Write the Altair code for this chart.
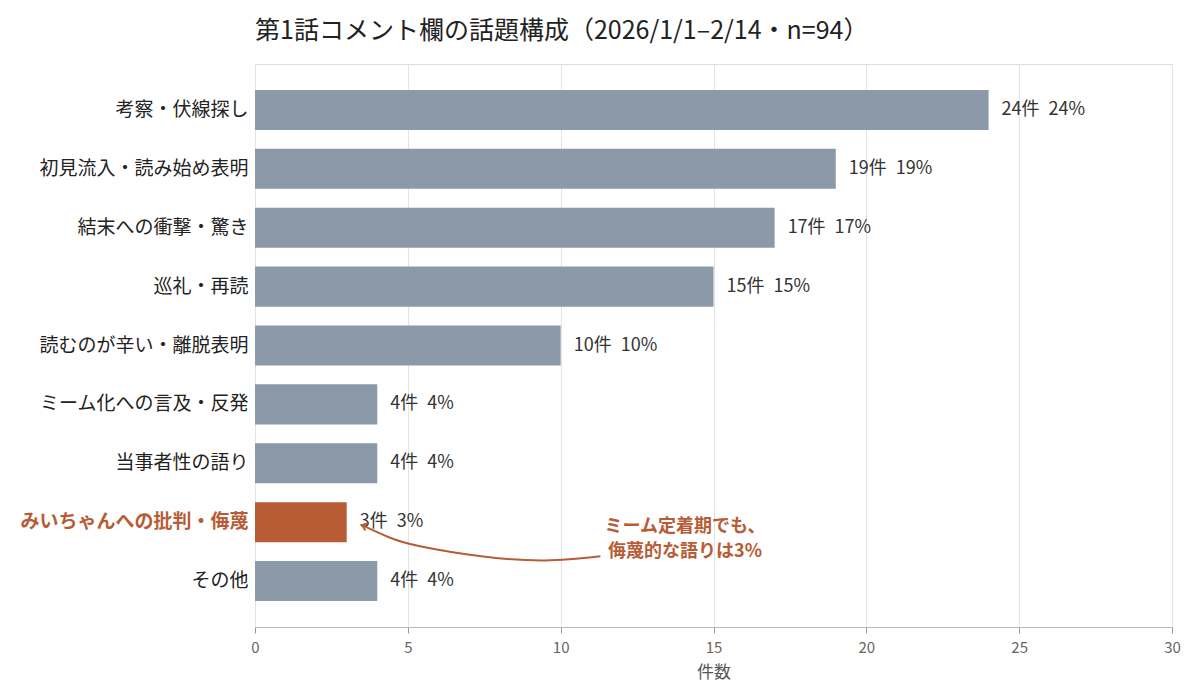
import altair as alt
import pandas as pd

topics = ["考察・伏線探し", "初見流入・読み始め表明", "結末への衝撃・驚き", "巡礼・再読",
          "読むのが辛い・離脱表明", "ミーム化への言及・反発", "当事者性の語り",
          "みいちゃんへの批判・侮蔑", "その他"]
counts = [24, 19, 17, 15, 10, 4, 4, 3, 4]
percents = [24, 19, 17, 15, 10, 4, 4, 3, 4]
highlight_topic = "みいちゃんへの批判・侮蔑"

# annotation (data units: x = 件数, y = row index)
arrow_x = [11.3, 9.5, 7.4, 5.4, 4.4, 3.5]
arrow_y = [7.58, 7.65, 7.58, 7.41, 7.26, 7.05]
note_lines = ["ミーム定着期でも、", "侮蔑的な語りは3%"]
note_x = [14.07, 14.07]
note_y = [7.08, 7.50]

FONT = "Noto Sans CJK JP"
GRAY = "#8C99A8"
ORANGE = "#B85C35"
W, H = 917, 563
P_IN, P_OUT = 0.32, 0.44
n = len(topics)

df = pd.DataFrame({
    "topic": topics,
    "count": counts,
    "pct": percents,
})
df["label"] = [f"{c}件\u2002{p}%" for c, p in zip(counts, percents)]
df["hl"] = df["topic"] == highlight_topic

ycat = alt.Y("topic:N", sort=topics, title=None,
             scale=alt.Scale(paddingInner=P_IN, paddingOuter=P_OUT),
             axis=alt.Axis(ticks=False, domain=False, labelFont=FONT, labelFontSize=19,
                           labelPadding=7, labelLimit=400,
                           labelColor={"condition": {"test": f"datum.value == '{highlight_topic}'", "value": ORANGE}, "value": "#222222"},
                           labelFontWeight={"condition": {"test": f"datum.value == '{highlight_topic}'", "value": "bold"}, "value": "normal"}))
xq = alt.X("count:Q", title="件数", scale=alt.Scale(domain=[0, 30], nice=False),
           axis=alt.Axis(values=[0, 5, 10, 15, 20, 25, 30], grid=True, gridColor="#e3e3e3",
                         domainColor="#bbbbbb", tickColor="#999999", tickSize=6,
                         labelFlush=False,
                         labelFont=FONT, labelFontSize=15, labelColor="#666666", labelPadding=7,
                         titleFont=FONT, titleFontSize=17, titleColor="#555555",
                         titleFontWeight="normal", titlePadding=9))

base = alt.Chart(df)
bars = base.mark_bar().encode(
    x=xq, y=ycat,
    color=alt.condition(alt.datum.hl, alt.value(ORANGE), alt.value(GRAY)),
)
labels = base.mark_text(align="left", baseline="middle", dx=13, font=FONT,
                        fontSize=18, color="#333333").encode(
    x="count:Q", y=alt.Y("topic:N", sort=topics), text="label:N")

step_units = n - P_IN + 2 * P_OUT
r0 = -(P_OUT + (1 - P_IN) / 2)
r1 = r0 + step_units
yq_scale = alt.Scale(domain=[r0, r1], reverse=True, nice=False, zero=False)

arrow_df = pd.DataFrame({"x": arrow_x, "y": arrow_y, "o": list(range(len(arrow_x)))})
arrow = alt.Chart(arrow_df).mark_line(color=ORANGE, strokeWidth=2, interpolate="natural").encode(
    x=alt.X("x:Q", scale=alt.Scale(domain=[0, 30], nice=False)),
    y=alt.Y("y:Q", scale=yq_scale, axis=None),
    order="o:Q")
head_df = arrow_df.tail(1)
head = alt.Chart(head_df).mark_point(shape="M -1 -0.75 L 0 0 L -1 0.75", filled=False,
                                      stroke=ORANGE, strokeWidth=2, size=100, angle=200,
                                      opacity=1).encode(
    x=alt.X("x:Q", scale=alt.Scale(domain=[0, 30], nice=False)),
    y=alt.Y("y:Q", scale=yq_scale, axis=None))
note_df = pd.DataFrame({"x": note_x, "y": note_y, "t": note_lines})
note = alt.Chart(note_df).mark_text(align="center", baseline="middle", font=FONT, fontSize=18,
                                    fontWeight="bold", color=ORANGE).encode(
    x=alt.X("x:Q", scale=alt.Scale(domain=[0, 30], nice=False)),
    y=alt.Y("y:Q", scale=yq_scale, axis=None),
    text="t:N")

cat_layer = alt.layer(bars, labels)
ann_layer = alt.layer(arrow, head, note)

chart = alt.layer(cat_layer, ann_layer).resolve_scale(y="independent").properties(
    width=W, height=H,
    title=alt.Title("第1話コメント欄の話題構成（2026/1/1–2/14・n=94）", anchor="start", frame="group",
                    font=FONT, fontSize=25, fontWeight="normal", color="#222222", offset=20),
).configure_view(stroke=None).configure(padding={"left": 11, "top": 11, "right": 5, "bottom": 5})

chart.save("out.html", embed_options={"renderer": "svg", "actions": False})
